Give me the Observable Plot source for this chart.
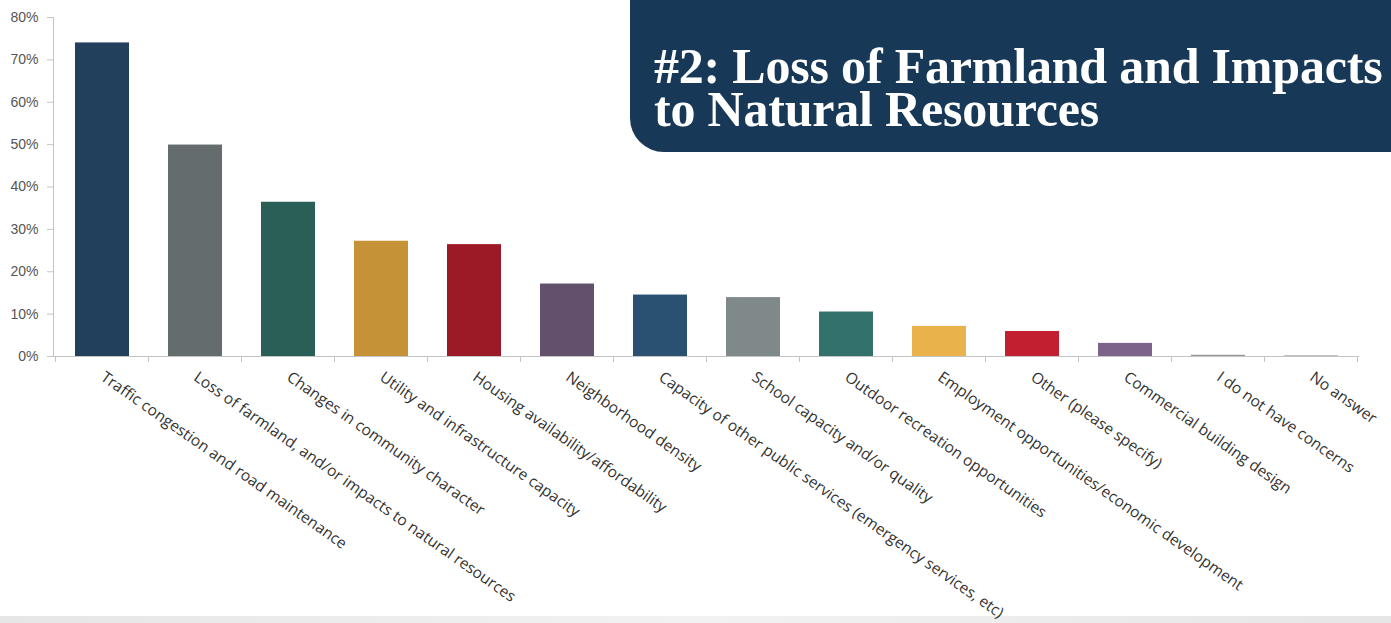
<!DOCTYPE html>
<html>
<head>
<meta charset="utf-8">
<script src="https://cdn.jsdelivr.net/npm/d3@7"></script>
<script src="https://cdn.jsdelivr.net/npm/@observablehq/plot@0.6"></script>
<style>
  html, body { margin: 0; padding: 0; background: #fff; }
  #wrap { position: relative; width: 1391px; height: 623px; overflow: hidden; background: #fff; }
  #chart { position: absolute; left: 0; top: 0; z-index: 2; }
  #title {
    position: absolute; left: 630px; top: 0; width: 761px; height: 152px; z-index: 3;
    background: #173957; border-bottom-left-radius: 34px; box-sizing: border-box;
    padding-left: 24px; padding-top: 45px;
    color: #fff; font-family: "Liberation Serif", "DejaVu Serif", serif; font-weight: bold;
    font-size: 50px; line-height: 43px; white-space: nowrap; letter-spacing: -0.2px;
  }
  #title div { height: 43px; }
  #strip { position: absolute; left: 0; bottom: 0; width: 1391px; height: 7px; z-index: 1;
    background: linear-gradient(to right, #e6e6e6, #f2f2f2 50%, #e6e6e6); }
</style>
</head>
<body>
<div id="wrap">
  <div id="strip"></div>
  <div id="chart"></div>
  <div id="title"><div>#2: Loss of Farmland and Impacts</div><div>to Natural Resources</div></div>
</div>
<script>
const categories = [
  "Traffic congestion and road maintenance",
  "Loss of farmland, and/or impacts to natural resources",
  "Changes in community character",
  "Utility and infrastructure capacity",
  "Housing availability/affordability",
  "Neighborhood density",
  "Capacity of other public services (emergency services, etc)",
  "School capacity and/or quality",
  "Outdoor recreation opportunities",
  "Employment opportunities/economic development",
  "Other (please specify)",
  "Commercial building design",
  "I do not have concerns",
  "No answer"
];
const values = [74.0, 49.9, 36.4, 27.2, 26.4, 17.1, 14.5, 13.9, 10.5, 7.1, 5.9, 3.1, 0.3, 0.15];
const colors = ["#223f5b", "#656c6d", "#2a5f58", "#c59237", "#9b1a26", "#62506c", "#2a5072",
                "#7f898a", "#33716d", "#e9b24a", "#c22030", "#7b6389", "#9a9a9a", "#9a9a9a"];
const yTicks = [0, 10, 20, 30, 40, 50, 60, 70, 80];

const data = categories.map((c, i) => ({category: c, value: values[i], color: colors[i]}));

const plot = Plot.plot({
  width: 1391,
  height: 623,
  marginLeft: 53,
  marginRight: 32,
  marginTop: 17,
  marginBottom: 267,
  style: {fontFamily: "'Open Sans', sans-serif", background: "transparent", overflow: "visible"},
  x: {domain: categories, paddingInner: 0.42, paddingOuter: 0.21, label: null},
  y: {domain: [0, 80], label: null},
  marks: [
    Plot.barY(data, {x: "category", y: "value", fill: "color"}),
    Plot.axisY({ticks: yTicks, tickFormat: d => d + "%", tickSize: 6, tickPadding: 9,
      stroke: "#c4c4c4", color: "#555", fontSize: 14, fontFamily: "'Liberation Sans', Arial, sans-serif"}),
    Plot.axisX({tickSize: 0, tickRotate: 35, tickPadding: 19, textAnchor: "start",
      fontSize: 15.5, color: "#333", fontFamily: "'Open Sans', sans-serif"}),
    Plot.frame({anchor: "left", stroke: "#c4c4c4"}),
    Plot.ruleY([0], {stroke: "#c4c4c4"})
  ]
});
document.getElementById("chart").appendChild(plot);

// boundary ticks on the category axis, from the plot's own x scale
const xs = plot.scale("x");
const ys = plot.scale("y");
const step = xs.step;
const y0 = ys.apply(0);
const bounds = categories.map(c => xs.apply(c) - (step - xs.bandwidth) / 2);
bounds.push(bounds[bounds.length - 1] + step);
d3.select(plot).append("g").attr("stroke", "#c4c4c4")
  .selectAll("line").data(bounds).join("line")
  .attr("x1", d => d).attr("x2", d => d).attr("y1", y0).attr("y2", y0 + 6);
</script>
</body>
</html>
